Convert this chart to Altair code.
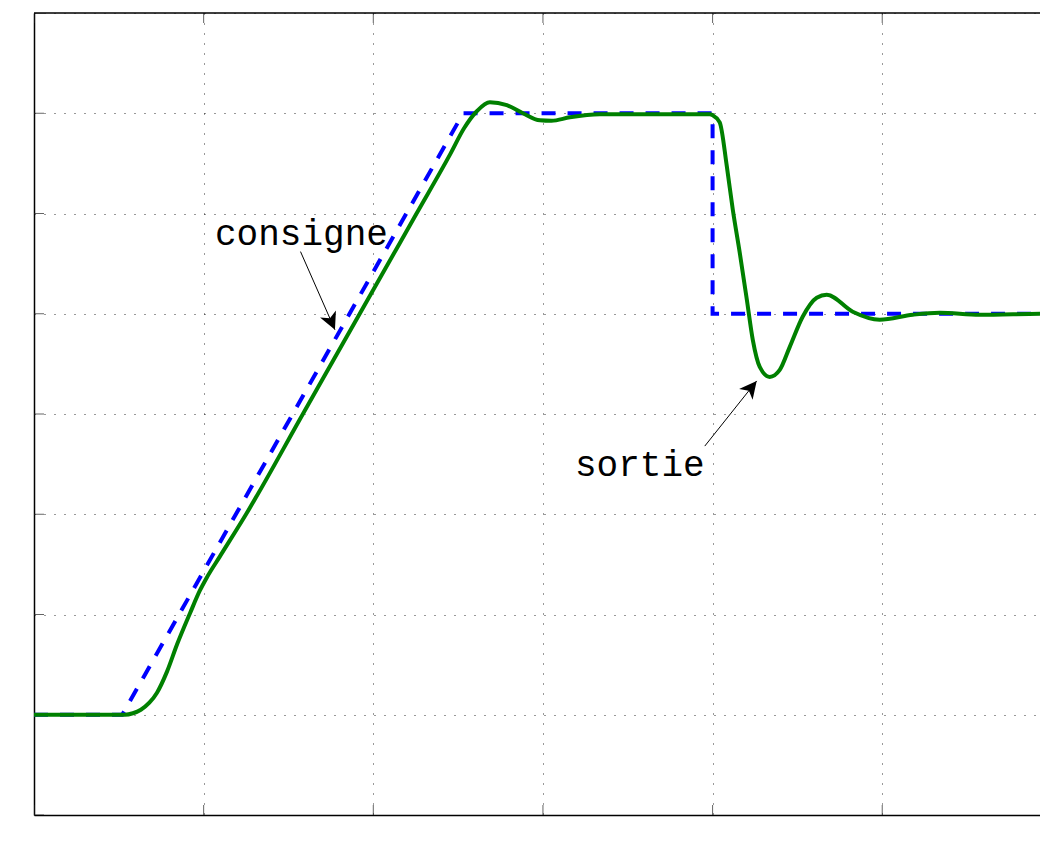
import altair as alt
import pandas as pd

# Reference (consigne) – blue dashed
t_ref = [0.0, 0.52, 2.53, 4.0, 4.0, 6.0]
y_ref = [1.0, 1.0, 7.0, 7.0, 5.0, 5.0]

# Output (sortie) – green
t_out = [0.0, 0.536, 0.583, 0.630, 0.680, 0.725, 0.784, 0.843, 0.919, 0.978, 1.019,
         1.096, 1.25, 1.585, 1.92, 2.255, 2.456, 2.535, 2.610, 2.687, 2.787, 2.882,
         2.982, 3.05, 3.159, 3.335, 3.648, 3.983, 4.001, 4.042, 4.084, 4.119, 4.160,
         4.202, 4.237, 4.278, 4.337, 4.396, 4.455, 4.531, 4.614, 4.673, 4.826, 4.985,
         5.180, 5.339, 5.574, 5.969, 6.0]
y_out = [1.0, 1.0, 1.015, 1.05, 1.12, 1.22, 1.43, 1.70, 2.01, 2.24, 2.37,
         2.58, 3.0, 4.0, 5.0, 6.0, 6.6, 6.85, 7.02, 7.11, 7.08, 7.00,
         6.93, 6.925, 6.96, 6.99, 6.99, 6.99, 6.98, 6.91, 6.47, 6.04, 5.61,
         5.14, 4.74, 4.47, 4.37, 4.44, 4.67, 4.97, 5.16, 5.19, 5.02, 4.94,
         4.99, 5.01, 4.99, 5.00, 5.00]

grid_x = [0, 1, 2, 3, 4, 5]
grid_y = [0, 1, 2, 3, 4, 5, 6, 7, 8]

labels = ["consigne", "sortie"]
label_x = [1.067, 3.189]
label_y = [5.686, 3.382]
arrow_x0 = [1.571, 3.954]
arrow_y0 = [5.62, 3.68]
arrow_x1 = [1.774, 4.260]
arrow_y1 = [4.84, 4.33]
arrow_angle = [156.3, 38.7]

XD = [0, 5.93]
YD = [0, 8]

ref_df = pd.DataFrame({"t": t_ref, "y": y_ref, "i": range(len(t_ref))})
out_df = pd.DataFrame({"t": t_out, "y": y_out, "i": range(len(t_out))})
xt_df = pd.DataFrame({"t": [v for v in grid_x for _ in (0, 1)],
                      "y": [e for _ in grid_x for e in YD]})
yt_df = pd.DataFrame({"t": [0 for _ in grid_y],
                      "y": grid_y})
top_df = pd.DataFrame({"y": [YD[1]]})
lab_df = pd.DataFrame({"label": labels, "x": label_x, "y": label_y})
arr_df = pd.DataFrame({"x0": arrow_x0, "y0": arrow_y0, "x1": arrow_x1,
                       "y1": arrow_y1, "a": arrow_angle})

xs = alt.Scale(domain=XD, nice=False, zero=False)
ys = alt.Scale(domain=YD, nice=False, zero=False)
common_axis = dict(labels=False, ticks=False, domain=True, domainColor="black",
                   domainWidth=1.5, title=None, grid=True, gridColor="#000000",
                   gridOpacity=0.8, gridDash=[1, 9], gridWidth=1)
xax = alt.Axis(values=grid_x, **common_axis)
yax = alt.Axis(values=grid_y, **common_axis)

xticks = alt.Chart(xt_df).mark_tick(orient="vertical", size=20, thickness=1,
                                    color="#222222", clip=True).encode(
    x=alt.X("t:Q", scale=xs, axis=xax), y=alt.Y("y:Q", scale=ys, axis=yax))
yticks = alt.Chart(yt_df).mark_tick(orient="horizontal", size=20, thickness=1,
                                    color="#222222", clip=True).encode(
    x=alt.X("t:Q", scale=xs), y=alt.Y("y:Q", scale=ys))
top_border = alt.Chart(top_df).mark_rule(color="black", strokeWidth=1.5).encode(
    y=alt.Y("y:Q", scale=ys))

ref_line = alt.Chart(ref_df).mark_line(color="#0000ff", strokeWidth=4,
                                       strokeDash=[14, 12], clip=True).encode(
    x=alt.X("t:Q", scale=xs), y=alt.Y("y:Q", scale=ys), order="i:Q")
out_line = alt.Chart(out_df).mark_line(color="#008000", strokeWidth=4,
                                       interpolate="monotone", clip=True).encode(
    x=alt.X("t:Q", scale=xs), y=alt.Y("y:Q", scale=ys), order="i:Q")

arrow_lines = alt.Chart(arr_df).mark_rule(color="black", strokeWidth=1).encode(
    x=alt.X("x0:Q", scale=xs), y=alt.Y("y0:Q", scale=ys), x2="x1:Q", y2="y1:Q")
arrow_heads = alt.Chart(arr_df).mark_point(
    shape="M0,0 L-0.5,1 L0,0.72 L0.5,1 Z", filled=True, color="black",
    opacity=1, size=1200, strokeWidth=0).encode(
    x=alt.X("x1:Q", scale=xs), y=alt.Y("y1:Q", scale=ys),
    angle=alt.Angle("a:Q", scale=None))

texts = alt.Chart(lab_df).mark_text(font="Courier New, Liberation Mono, monospace",
                                    fontSize=36, align="left", baseline="alphabetic",
                                    color="black").encode(
    x=alt.X("x:Q", scale=xs), y=alt.Y("y:Q", scale=ys), text="label:N")

chart = alt.layer(xticks, yticks, top_border, ref_line, out_line, arrow_lines,
                  arrow_heads, texts).properties(
    width=1006, height=802,
    autosize=alt.AutoSizeParams(type="none"),
    padding={"left": 26, "top": 5, "right": 0, "bottom": 15},
    background="white",
).configure_view(stroke="transparent")

chart.save("out.html", embed_options={"renderer": "svg", "actions": False})
